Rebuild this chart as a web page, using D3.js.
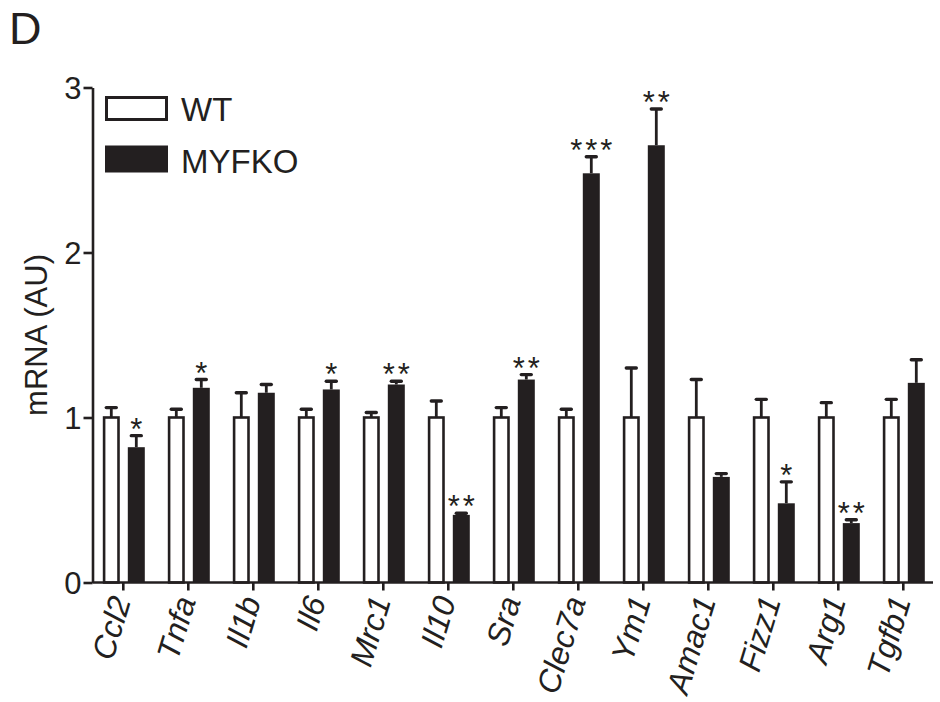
<!DOCTYPE html>
<html>
<head>
<meta charset="utf-8">
<script src="https://cdn.jsdelivr.net/npm/d3@7"></script>
<style>
  html, body { margin: 0; padding: 0; background: #fff; }
  svg { display: block; font-family: "Liberation Sans", Arial, Helvetica, sans-serif; }
</style>
</head>
<body>
<svg id="chart" width="940" height="702"></svg>
<script>
// Gene expression (mRNA, arbitrary units), WT normalised to 1
const genes = ["Ccl2", "Tnfa", "Il1b", "Il6", "Mrc1", "Il10", "Sra", "Clec7a", "Ym1", "Amac1", "Fizz1", "Arg1", "Tgfb1"];
const seriesNames = ["WT", "MYFKO"];
const wtMean = [1, 1, 1, 1, 1, 1, 1, 1, 1, 1, 1, 1, 1];
const wtErr  = [0.06, 0.05, 0.15, 0.05, 0.03, 0.10, 0.06, 0.05, 0.30, 0.23, 0.11, 0.09, 0.11];
const koMean = [0.82, 1.18, 1.15, 1.17, 1.20, 0.41, 1.23, 2.48, 2.65, 0.64, 0.48, 0.36, 1.21];
const koErr  = [0.07, 0.05, 0.05, 0.05, 0.02, 0.01, 0.03, 0.10, 0.22, 0.02, 0.13, 0.02, 0.14];
const significance = ["*", "*", "", "*", "**", "**", "**", "***", "**", "", "*", "**", ""];
const yTicks = [0, 1, 2, 3];

const INK = "#231f20";
const svg = d3.select("#chart");

const axisX = 92.5;
const x = d3.scaleBand().domain(genes).range([90.8, 935.8]).paddingInner(0).paddingOuter(0);
const sub = d3.scaleBand().domain(seriesNames).range([-20.5, 21.5]).paddingInner(0.32);
const y = d3.scaleLinear().domain([0, 3]).range([582.5, 87.5]);

const rows = genes.map((g, i) => ({
  gene: g,
  bars: [
    { s: "WT", v: wtMean[i], e: wtErr[i] },
    { s: "MYFKO", v: koMean[i], e: koErr[i], sig: significance[i] }
  ]
}));

// Panel letter
svg.append("text").attr("x", 9).attr("y", 44)
  .attr("font-size", 45).attr("fill", INK).text("D");

// Y axis
const yAxis = d3.axisLeft(y).tickValues(yTicks).tickFormat(d3.format("d"))
  .tickSize(9).tickSizeOuter(0).tickPadding(2);
const gy = svg.append("g").attr("transform", `translate(${axisX},0)`).call(yAxis);
gy.select(".domain").attr("stroke", INK).attr("stroke-width", 2.6);
gy.selectAll(".tick line").attr("stroke", INK).attr("stroke-width", 2.6);
gy.selectAll(".tick text").attr("font-size", 31).attr("fill", INK)
  .attr("font-family", "Liberation Sans, Arial, sans-serif").attr("dy", "0.36em");

// Y title, centred between the 1 and 2 gridline levels
svg.append("text")
  .attr("transform", `translate(47,${(y(1) + y(2)) / 2}) rotate(-90)`)
  .attr("text-anchor", "middle").attr("font-size", 31).attr("fill", INK)
  .text("mRNA (AU)");

// Bars
const bw = sub.bandwidth();
const groups = svg.append("g").selectAll("g.gene").data(rows).join("g")
  .attr("class", "gene")
  .attr("transform", d => `translate(${x(d.gene) + x.bandwidth() / 2},0)`);

const SW = 2.6;
groups.selectAll("rect.bar").data(d => d.bars).join("rect")
  .attr("class", "bar")
  .attr("x", d => d.s === "WT" ? sub(d.s) + SW / 2 : sub(d.s))
  .attr("width", d => d.s === "WT" ? bw - SW : bw)
  .attr("y", d => y(d.v))
  .attr("height", d => y(0) - y(d.v))
  .attr("fill", d => d.s === "WT" ? "#fff" : INK)
  .attr("stroke", d => d.s === "WT" ? INK : "none")
  .attr("stroke-width", SW);

// Error bars (upper only)
groups.selectAll("line.err").data(d => d.bars).join("line")
  .attr("class", "err")
  .attr("x1", d => sub(d.s) + bw / 2).attr("x2", d => sub(d.s) + bw / 2)
  .attr("y1", d => y(d.v)).attr("y2", d => y(d.v + d.e))
  .attr("stroke", INK).attr("stroke-width", 2.8);
groups.selectAll("line.cap").data(d => d.bars).join("line")
  .attr("class", "cap")
  .attr("x1", d => sub(d.s) + bw / 2 - 5).attr("x2", d => sub(d.s) + bw / 2 + 5)
  .attr("y1", d => y(d.v + d.e)).attr("y2", d => y(d.v + d.e))
  .attr("stroke", INK).attr("stroke-width", 3.4).attr("stroke-linecap", "round");

// Significance marks
groups.selectAll("text.sig").data(d => d.bars.filter(b => b.sig)).join("text")
  .attr("class", "sig")
  .attr("x", d => sub(d.s) + bw / 2 + 1.5)
  .attr("y", d => y(d.v + d.e) + 4)
  .attr("text-anchor", "middle").attr("font-size", 31).attr("letter-spacing", 3)
  .attr("fill", INK).text(d => d.sig);

// X axis
svg.append("line").attr("x1", axisX).attr("x2", 933)
  .attr("y1", y(0)).attr("y2", y(0)).attr("stroke", INK).attr("stroke-width", 2.6);
const xAxis = d3.axisBottom(x).tickSize(8).tickSizeOuter(0).tickFormat("");
const gx = svg.append("g").attr("transform", `translate(0,${y(0)})`).call(xAxis);
gx.select(".domain").remove();
gx.selectAll(".tick line").attr("stroke", INK).attr("stroke-width", 2.6);

// Rotated italic gene names
svg.append("g").selectAll("text").data(genes).join("text")
  .attr("transform", d => `translate(${x(d) + x.bandwidth() / 2 + 8},${y(0) + 18}) rotate(-73)`)
  .attr("text-anchor", "end").attr("font-size", 32).attr("font-style", "italic")
  .attr("fill", INK).text(d => d);

// Legend
const legend = svg.append("g");
legend.append("rect").attr("x", 106.5).attr("y", 97.5).attr("width", 60).attr("height", 22)
  .attr("fill", "#fff").attr("stroke", INK).attr("stroke-width", 3);
legend.append("rect").attr("x", 105).attr("y", 145.5).attr("width", 63).attr("height", 27)
  .attr("fill", INK);
legend.selectAll("text").data(seriesNames).join("text")
  .attr("x", 181).attr("y", (d, i) => i === 0 ? 121 : 172.5)
  .attr("font-size", 33).attr("fill", INK).text(d => d);
</script>
</body>
</html>
